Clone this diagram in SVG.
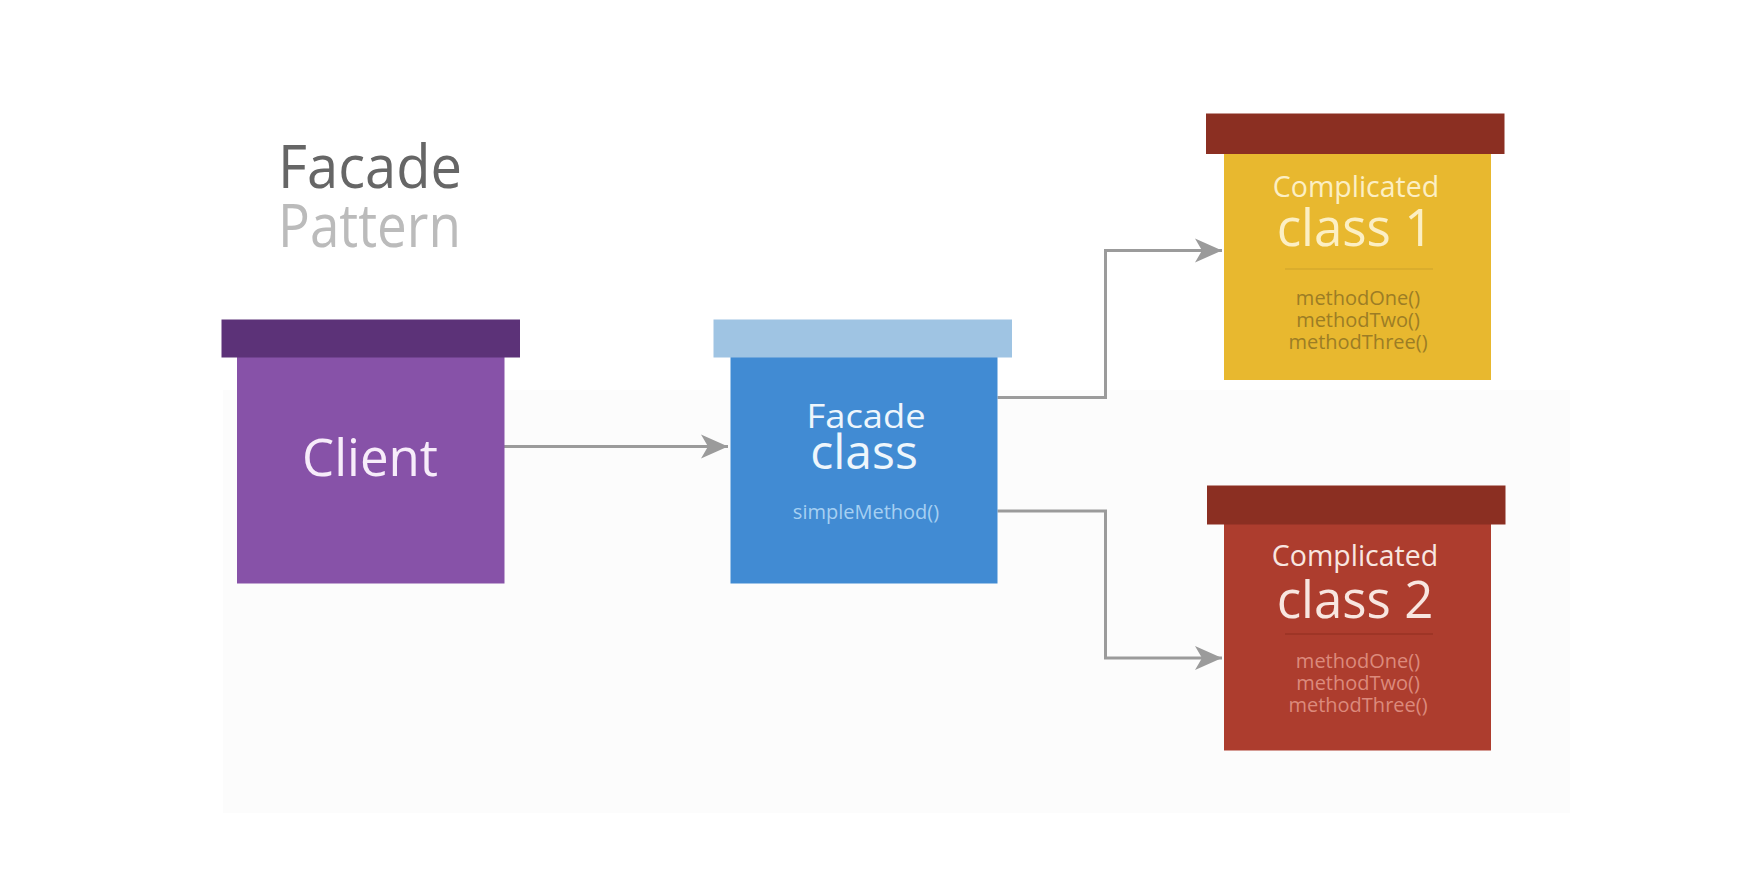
<svg xmlns="http://www.w3.org/2000/svg" width="1746" height="880" viewBox="0 0 1746 880">
  <defs>
    <style>
      text { font-family: "Open Sans", "Noto Sans", "Liberation Sans", sans-serif; }
      .mid { text-anchor: middle; }
      .conn { fill: none; stroke: #9b9b9b; stroke-width: 3; }
      .cap { fill: #8b2f22; }
      .m1 { font-size: 20px; fill: #9c7d25; }
      .m2 { font-size: 20px; fill: #dc8a7c; }
    </style>
    <marker id="arrow" markerUnits="userSpaceOnUse" markerWidth="30" markerHeight="30" viewBox="-28 -14 30 28" refX="0" refY="0" orient="auto">
      <path d="M0,0 L-27,-12 L-20,0 L-27,12 Z" fill="#9b9b9b"/>
    </marker>
  </defs>

  <rect x="0" y="0" width="1746" height="880" fill="#ffffff"/>
  <rect x="223" y="390" width="1347" height="423" fill="#fcfcfc"/>

  <g id="title">
    <text x="278" y="188" font-size="60" fill="#666666" textLength="184" lengthAdjust="spacingAndGlyphs">Facade</text>
    <text x="278" y="247" font-size="60" fill="#bbbbbb" textLength="183" lengthAdjust="spacingAndGlyphs">Pattern</text>
  </g>

  <g id="connectors">
    <path class="conn" d="M504,446.5 H728" marker-end="url(#arrow)"/>
    <path class="conn" d="M997.5,397.5 H1105.5 V250.5 H1222" marker-end="url(#arrow)"/>
    <path class="conn" d="M997.5,511 H1105.5 V658 H1222" marker-end="url(#arrow)"/>
  </g>

  <g id="client">
    <rect x="237" y="357" width="267.5" height="226.5" fill="#8752a8"/>
    <rect x="221.5" y="319.5" width="298.5" height="38" fill="#5c3278"/>
    <text class="mid" x="370" y="476" font-size="51" fill="#f7ecfa">Client</text>
  </g>

  <g id="facade-class">
    <rect x="730.5" y="357" width="267" height="226.5" fill="#418bd3"/>
    <rect x="713.5" y="319.5" width="298.5" height="38" fill="#9fc4e3"/>
    <text class="mid" x="866" y="428" font-size="32" fill="#eef6fc" textLength="119" lengthAdjust="spacingAndGlyphs">Facade</text>
    <text class="mid" x="864" y="469" font-size="48" fill="#eef6fc">class</text>
    <text class="mid" x="866" y="519" font-size="20" fill="#a6d0f2">simpleMethod()</text>
  </g>

  <g id="complicated-class-1">
    <rect x="1224" y="153.5" width="267" height="226.5" fill="#e8b82f"/>
    <rect class="cap" x="1206" y="113.5" width="298.5" height="40.5"/>
    <text class="mid" x="1356" y="197" font-size="28.5" fill="#fcefc4">Complicated</text>
    <text class="mid" x="1355" y="246" font-size="51" fill="#fcefc4">class 1</text>
    <line x1="1285" y1="269" x2="1433" y2="269" stroke="#d6aa2e" stroke-width="1.5"/>
    <text class="mid m1" x="1358" y="305">methodOne()</text>
    <text class="mid m1" x="1358" y="327">methodTwo()</text>
    <text class="mid m1" x="1358" y="349">methodThree()</text>
  </g>

  <g id="complicated-class-2">
    <rect x="1224" y="524" width="267" height="226.5" fill="#ad3d2e"/>
    <rect class="cap" x="1207" y="485.5" width="298.5" height="39"/>
    <text class="mid" x="1355" y="566" font-size="28.5" fill="#f8e6e0">Complicated</text>
    <text class="mid" x="1355" y="618" font-size="51" fill="#f8e6e0">class 2</text>
    <line x1="1285" y1="634" x2="1433" y2="634" stroke="#9a3325" stroke-width="1.5"/>
    <text class="mid m2" x="1358" y="668">methodOne()</text>
    <text class="mid m2" x="1358" y="690">methodTwo()</text>
    <text class="mid m2" x="1358" y="712">methodThree()</text>
  </g>
</svg>
